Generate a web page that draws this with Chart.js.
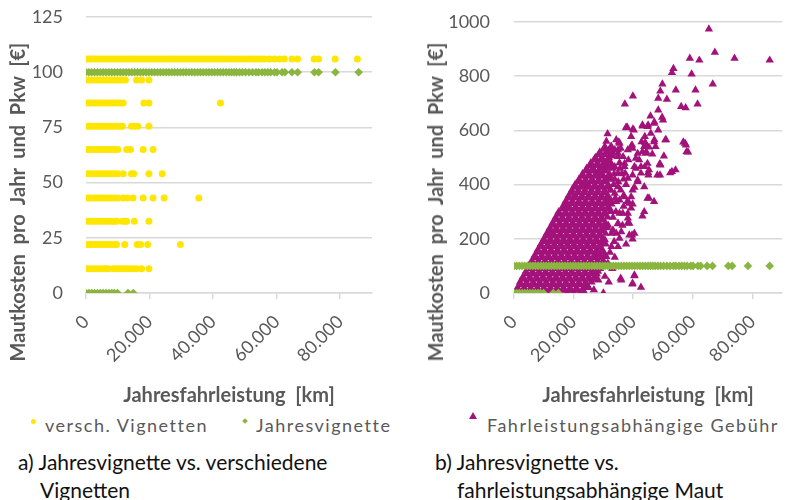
<!DOCTYPE html>
<html lang="de">
<head>
<meta charset="utf-8">
<title>Mautkosten pro Jahr und Pkw</title>
<script src="https://cdn.jsdelivr.net/npm/chart.js@4.4.1/dist/chart.umd.min.js"></script>
<style>
  html, body { margin: 0; padding: 0; background: #ffffff; }
  body { position: relative; width: 787px; height: 500px; overflow: hidden; font-family: Lato, "Open Sans", sans-serif; }
  .panel { position: absolute; top: 0; height: 408px; }
  #panelA { left: 0; width: 400px; }
  #panelB { left: 420px; width: 367px; }
  .ytitle { position: absolute; top: 202px; font-size: 20px; line-height: 20px; font-weight: bold; color: #595959;
            white-space: pre; transform: translate(-50%, -50%) rotate(-90deg); }
  .legend-text { position: absolute; top: 414px; font-size: 18px; line-height: 22px; color: #595959;
                 letter-spacing: 1.5px; white-space: pre; }
  .marker { position: absolute; }
  .caption { position: absolute; font-size: 21px; line-height: 28px; color: #111111; white-space: pre; }
</style>
</head>
<body>
<div class="panel" id="panelA"><canvas id="chartA"></canvas></div>
<div class="panel" id="panelB"><canvas id="chartB"></canvas></div>
<div id="overlay"></div>
<script>
// ---- Achsen ----
const kmMax = 90000;
const kmTicks = [0, 20000, 40000, 60000, 80000];
const euroAxisA = { max: 125, step: 25 };
const euroAxisB = { max: 1000, step: 200 };

const titleX = 'Jahresfahrleistung  [km]';
const titleY = 'Mautkosten  pro  Jahr  und  Pkw  [€]';

// ---- Serien ----
const nameVignetten = 'versch. Vignetten';
const nameJahresvignette = 'Jahresvignette';
const nameGebuehr = 'Fahrleistungsabhängige Gebühr';

const captionA = ['a) Jahresvignette vs. verschiedene', 'Vignetten'];
const captionB = ['b) Jahresvignette vs.', 'fahrleistungsabhängige Maut'];

// versch. Vignetten: Kostenstufen [€] und die Jahresfahrleistungen [km] je Stufe
const vignettenEuro = [106, 96.5, 86, 75.5, 65, 54, 43, 32.5, 22, 11];
const vignettenKm = [
  [300, 1100, 2000, 2900, 3800, 4700, 5600, 6500, 7400, 8300, 9200, 10100, 11000, 11900, 12800, 13700,
   14600, 15500, 16400, 17300, 18200, 19100, 20000, 20900, 21800, 22700, 23600, 24500, 25400, 26300,
   27200, 28100, 29000, 29900, 30800, 31700, 32600, 33500, 34400, 35300, 36200, 37100, 38000, 38900,
   39800, 40700, 41600, 42500, 43400, 44300, 45200, 46200, 47200, 48300, 49300, 50400, 51400, 52500,
   53300, 54100, 55200, 56200, 57700, 59300, 60900, 62400, 64800, 66600, 71800, 73200, 78400, 85400],
  [700, 1600, 2500, 3400, 4300, 5200, 6100, 7000, 7900, 8800, 9700, 10600, 11500, 12400, 15900, 17500, 19800],
  [0, 900, 1800, 2700, 3600, 4500, 5400, 6300, 7200, 8100, 9000, 9900, 10800, 11700, 18200, 19800, 42300],
  [0, 900, 1800, 2700, 3600, 4500, 5400, 6300, 7200, 8100, 9000, 9900, 10800, 11500, 14300, 15200, 16300, 19800],
  [0, 900, 1800, 2700, 3600, 4500, 5400, 6300, 7200, 8100, 9000, 10000, 12800, 14000, 18000, 21100],
  [0, 900, 1800, 2700, 3600, 4500, 5400, 6300, 7200, 8100, 9000, 10000, 11700, 14300, 15000, 19800, 24000],
  [0, 900, 1800, 2700, 3600, 4500, 5400, 6300, 7200, 8100, 9000, 10000, 11700, 13100, 14800, 18000, 21100, 24600, 35500],
  [0, 900, 1800, 2700, 3600, 4500, 5400, 6300, 7200, 8100, 8900, 9700, 11500, 12200, 12800, 15200, 19800],
  [0, 900, 1800, 2700, 3600, 4500, 5400, 6300, 7200, 8100, 8900, 9600, 12200, 16100, 17200, 19400, 29700],
  [0, 900, 1800, 2700, 3600, 4500, 5400, 6200, 7000, 8600, 9500, 10400, 11300, 12200, 13100, 14000, 14900, 15900, 17500, 19800]
];

// Jahresvignette: 100 € bzw. 0 €
const jahresvignetteEuro = [100, 0];
const jahresvignetteKm = [
  [0, 900, 1800, 2700, 3600, 4500, 5400, 6300, 7200, 8100, 9000, 9900, 10800, 11700, 12600, 13500,
   14400, 15300, 16200, 17100, 18000, 18900, 19800, 20700, 21600, 22500, 23400, 24300, 25200, 26100,
   27000, 27900, 28800, 29700, 30600, 31500, 32400, 33300, 34200, 35100, 36000, 36900, 37800, 38700,
   39600, 40500, 41400, 42300, 43200, 44100, 45000, 45800, 46600, 47400, 48300, 49200, 50200, 51300,
   52400, 53500, 54300, 55400, 56300, 57200, 58100, 59300, 60100, 61700, 62600, 64800, 66600, 71900,
   73200, 78500, 85800],
  [0, 900, 1800, 2700, 3600, 4500, 5400, 6300, 7200, 8100, 8900, 9900, 13200, 14900]
];

// Fahrleistungsabhängige Gebühr: geschlossene Punktwolke, zeilenweise nach Kosten [€]
const gebuehrDichtEuro = [0, 10, 20, 30, 40, 50, 60, 70, 80, 90, 100, 110, 120, 130, 140, 150, 160, 170, 180, 190,
                          200, 210, 220, 230, 240, 250, 260, 270, 280, 290, 300, 310, 320, 330, 340, 350, 360, 370,
                          380, 390, 400, 410, 420, 430, 440, 450, 460, 470, 480, 490, 500, 510, 520, 530, 540];
const gebuehrDichtKm = [
  [300, 2400, 4600, 6800, 9000, 11200, 13400, 15600, 17800, 20000, 22200, 23600],
  [1400, 3500, 5700, 7900, 10100, 12300, 14500, 16700, 18900, 21100, 23300],
  [1200, 3400, 5600, 7800, 10000, 12200, 14400, 16600, 18800, 21000, 23300, 25000],
  [2300, 4500, 6700, 8900, 11100, 13300, 15500, 17700, 19900, 22100, 24300],
  [2000, 4200, 6400, 8600, 10800, 13000, 15200, 17400, 19600, 21800, 24000, 26000],
  [3300, 5500, 7700, 9900, 12100, 14300, 16500, 18700, 20900, 23100, 25300, 26600],
  [3000, 5300, 7500, 9700, 11900, 14100, 16300, 18500, 20700, 22900, 25100, 27200],
  [4300, 6500, 8700, 10900, 13100, 15300, 17500, 19700, 21900, 24100, 26300, 27800],
  [4000, 6200, 8400, 10600, 12800, 15000, 17200, 19400, 21600, 23800, 26000, 28200],
  [5200, 7400, 9600, 11800, 14000, 16200, 18400, 20600, 22800, 25000, 27200, 28900],
  [5000, 7300, 9500, 11700, 13900, 16100, 18300, 20500, 22700, 24900, 27100, 29200],
  [6200, 8400, 10600, 12800, 15000, 17200, 19400, 21600, 23800, 26000, 28200, 29900],
  [6000, 8200, 10400, 12600, 14800, 17000, 19200, 21400, 23600, 25800, 28000, 30000],
  [7200, 9400, 11600, 13800, 16000, 18200, 20400, 22600, 24800, 27000, 29200],
  [7000, 9300, 11500, 13700, 15900, 18100, 20300, 22500, 24700, 26900, 28800, 30600],
  [8200, 10400, 12600, 14800, 17000, 19200, 21400, 23600, 25800, 28000, 30000],
  [8000, 10200, 12400, 14600, 16800, 19000, 21200, 23400, 25600, 27800, 29600],
  [9200, 11400, 13600, 15800, 18000, 20200, 22400, 24600, 26800, 29000],
  [9000, 11300, 13500, 15700, 17900, 20100, 22300, 24500, 26700, 28900, 30800],
  [10200, 12400, 14600, 16800, 19000, 21200, 23400, 25600, 27800, 30000],
  [10000, 12200, 14400, 16600, 18800, 21000, 23200, 25400, 27600, 29800],
  [11200, 13400, 15600, 17800, 20000, 22200, 24400, 26600, 28800],
  [11000, 13300, 15500, 17700, 19900, 22100, 24300, 26500, 28700, 30700],
  [12200, 14400, 16600, 18800, 21000, 23200, 25400, 27600, 29800],
  [12000, 14200, 16400, 18600, 20800, 23000, 25200, 27400, 29600, 31400],
  [13200, 15400, 17600, 19800, 22000, 24200, 26400, 28600, 30800],
  [13000, 15300, 17500, 19700, 21900, 24100, 26300, 28500, 30600],
  [14200, 16400, 18600, 20800, 23000, 25200, 27400, 29600],
  [14000, 16200, 18400, 20600, 22800, 25000, 27200, 29400, 31400],
  [15300, 17400, 19600, 21800, 24000, 26200, 28400, 30600],
  [15000, 17300, 19500, 21700, 23900, 26100, 28300, 30500, 32400],
  [16300, 18400, 20600, 22800, 25000, 27200, 29400, 31600],
  [16400, 18500, 20700, 22900, 25100, 27300, 29500, 31600],
  [17300, 19500, 21700, 23900, 26100, 28300, 30500],
  [17400, 19600, 21800, 24000, 26200, 28400, 30600, 32600],
  [18300, 20500, 22700, 24900, 27100, 29300, 31500],
  [18400, 20600, 22800, 25000, 27200, 29400, 31500],
  [19300, 21500, 23700, 25900, 28100, 30300],
  [19400, 21600, 23800, 26000, 28200, 30400, 32500],
  [20400, 22600, 24800, 27000, 29200, 31400],
  [20500, 22700, 24900, 27100, 29300, 31600],
  [21600, 23800, 26000, 28200, 30400],
  [21800, 24000, 26200, 28400, 30600, 32800],
  [22800, 25000, 27200, 29400, 31600],
  [23000, 25200, 27400, 29600, 32000],
  [24000, 26200, 28400, 30600],
  [24400, 26600, 28800, 31000, 33200],
  [25400, 27600, 29800, 32000],
  [25800, 28000, 30200, 32500],
  [26800, 29000, 31200],
  [27300, 29500, 31800],
  [28300, 30500, 32600],
  [28800, 31000, 33000],
  [30000, 32000],
  [30500, 32600]
];

// Fahrleistungsabhängige Gebühr: einzeln liegende Fahrzeuge [km, €]
const gebuehrEinzeln = [
  [65400, 974], [67400, 888], [59000, 866], [62200, 859], [74000, 866], [85800, 859], [53500, 828],
  [53000, 813], [59600, 808], [66700, 771], [49800, 771], [49100, 745], [54300, 749], [60900, 749],
  [39900, 727], [37200, 697], [48400, 718], [51300, 715], [56100, 688], [57600, 683], [61600, 697],
  [48400, 675], [45800, 653], [49700, 648], [47100, 631], [45000, 620], [43200, 616], [39900, 605],
  [37700, 609], [48400, 601], [31400, 587], [51000, 565], [56800, 557], [57700, 546], [58400, 520],
  [35200, 557], [47100, 565], [50300, 505], [49000, 476], [29200, 491], [26100, 454], [54200, 454],
  [52400, 443], [49000, 435], [45100, 435], [43700, 540], [44400, 521], [39600, 546], [42800, 558],
  [45300, 350], [47000, 337], [43700, 300], [43100, 284], [39800, 328], [39300, 313], [38200, 258],
  [39600, 214], [39800, 199], [34300, 220], [34900, 171], [33800, 132], [35800, 54], [40400, 63],
  [39700, 33], [42600, 21], [30000, 0], [57900, 521], [57400, 552], [45900, 589], [43900, 577],
  [44200, 550], [47000, 558], [45300, 538], [43100, 521], [46400, 513], [42000, 491], [43900, 466],
  [45000, 444], [41500, 417], [40400, 390], [39300, 355], [38000, 337], [37300, 442], [38400, 491],
  [39800, 534], [40900, 460], [39300, 577], [38000, 611], [34300, 565], [34900, 528], [35800, 534],
  [36600, 503], [33800, 466], [34900, 392], [33800, 368], [35400, 343], [32700, 328], [35400, 294],
  [33200, 279], [38200, 294], [34900, 255], [32700, 220], [30500, 196], [28300, 146], [31000, 134],
  [29400, 97], [26700, 73], [28300, 48], [25000, 21], [32700, 171], [37600, 611], [40200, 601],
  [43100, 620], [44800, 614], [47000, 626], [50000, 638], [50800, 565], [47500, 540], [44000, 555],
  [49100, 472], [53000, 448], [48100, 435], [44800, 349], [40400, 220], [38700, 257], [34900, 257],
  [35400, 552], [38200, 528], [41500, 515], [34900, 515], [37100, 478], [40400, 466], [42600, 442],
  [41500, 411], [38200, 423], [44800, 478], [43700, 392], [39800, 380], [37100, 355], [38700, 331],
  [34300, 337], [36500, 294], [32700, 300], [38200, 276], [36000, 226], [35400, 202], [38700, 214],
  [33200, 232], [33800, 528], [34900, 503], [39300, 540], [40900, 497], [44200, 515], [37100, 466],
  [42600, 466], [34900, 442], [39800, 435], [45300, 454], [32200, 466], [28300, 442], [29400, 466],
  [48900, 476], [36000, 48], [40400, 66], [39800, 36], [30500, 61], [31500, 110], [32200, 150],
  [33000, 90], [31800, 40], [26800, 12], [23400, 398], [20100, 355], [17900, 318], [11800, 214],
  [33400, 400], [31800, 420], [33600, 440], [35600, 460], [36800, 420], [35800, 380], [36800, 320],
  [34200, 300], [36400, 250], [33600, 190], [31600, 250], [37600, 180], [31000, 560], [32600, 540],
  [33200, 505], [31800, 480], [33800, 420], [32400, 380], [34000, 350], [31600, 330], [35000, 410],
  [36200, 440], [35400, 480], [37600, 400], [36800, 360], [32200, 520]
];

// ---- Farben ----
const colorVignetten = '#FFE600';
const colorJahresvignette = '#8AB53F';
const colorGebuehr = '#A2127A';
const colorText = '#595959';
const colorGrid = '#D9D9D9';

// ---- Hilfsfunktionen ----
function levelsToPoints(levels, kmRows) {
  const pts = [];
  levels.forEach((euro, i) => kmRows[i].forEach(km => pts.push({ x: km, y: euro })));
  return pts;
}
function formatKm(v) {
  return String(v).replace(/\B(?=(\d{3})+(?!\d))/g, '.');
}

function scales(axis, yWidth, yGap) {
  return {
    x: {
      type: 'linear', min: 0, max: kmMax, bounds: 'data',
      afterBuildTicks: s => { s.ticks = kmTicks.map(v => ({ value: v })); },
      ticks: {
        autoSkip: false, minRotation: 45, maxRotation: 45, padding: 12,
        color: colorText, font: { family: 'Lato', size: 18 },
        callback: v => formatKm(v)
      },
      grid: { drawOnChartArea: false, drawTicks: true, tickLength: 6, color: colorGrid, lineWidth: 1.5 },
      border: { display: true, color: colorGrid, width: 1.5 },
      title: {
        display: true, text: titleX, color: colorText,
        font: { family: 'Lato', size: 20, weight: 'bold' }, padding: { top: 0, bottom: 0 }
      },
      afterFit: s => { s.height = 115; }
    },
    y: {
      type: 'linear', min: 0, max: axis.max,
      ticks: { stepSize: axis.step, padding: 3, color: colorText, font: { family: 'Lato', size: 18 },
               callback: v => String(v) },
      grid: { color: colorGrid, lineWidth: 1.5, drawTicks: true, tickLength: yGap, tickColor: 'rgba(0,0,0,0)' },
      border: { display: false },
      afterFit: s => { s.width = yWidth; }
    }
  };
}

function baseOptions(axis, yWidth, yGap, padding) {
  return {
    responsive: true, maintainAspectRatio: false, animation: false,
    events: [],
    layout: { padding },
    plugins: { legend: { display: false }, tooltip: { enabled: false } },
    scales: scales(axis, yWidth, yGap)
  };
}

const jahresvignettePoints = levelsToPoints(jahresvignetteEuro, jahresvignetteKm);

// Diagramm a): Jahresvignette vs. verschiedene Vignetten
new Chart(document.getElementById('chartA'), {
  type: 'scatter',
  data: {
    datasets: [
      { label: nameJahresvignette, data: jahresvignettePoints, pointStyle: 'rectRot', pointRadius: 4.3,
        backgroundColor: colorJahresvignette, borderWidth: 0 },
      { label: nameVignetten, data: levelsToPoints(vignettenEuro, vignettenKm), pointStyle: 'circle', pointRadius: 3.5,
        backgroundColor: colorVignetten, borderWidth: 0 }
    ]
  },
  options: baseOptions(euroAxisA, 86, 20, { top: 17, right: 28, left: 0, bottom: 0 })
});

// Diagramm b): Jahresvignette vs. fahrleistungsabhängige Maut
const gebuehrPoints = levelsToPoints(gebuehrDichtEuro, gebuehrDichtKm)
  .concat(gebuehrEinzeln.map(([km, euro]) => ({ x: km, y: euro })));

new Chart(document.getElementById('chartB'), {
  type: 'scatter',
  data: {
    datasets: [
      { label: nameJahresvignette, data: jahresvignettePoints, pointStyle: 'rectRot', pointRadius: 4.3,
        backgroundColor: colorJahresvignette, borderWidth: 0 },
      { label: nameGebuehr, data: gebuehrPoints, pointStyle: 'triangle', pointRadius: 4.8,
        backgroundColor: colorGebuehr, borderWidth: 0 }
    ]
  },
  options: baseOptions(euroAxisB, 94, 21, { top: 22, right: 0, left: 0, bottom: 0 })
});

// ---- Achsentitel, Legenden und Bildunterschriften ----
const overlay = document.getElementById('overlay');
function addText(cls, text, left, top) {
  const d = document.createElement('div');
  d.className = cls;
  d.textContent = text;
  d.style.left = left + 'px';
  if (top !== null) d.style.top = top + 'px';
  overlay.appendChild(d);
  return d;
}
function addMarker(shape, color, cx, cy) {
  const m = document.createElement('div');
  m.className = 'marker';
  if (shape === 'circle') {
    Object.assign(m.style, { width: '5px', height: '5px', borderRadius: '50%', background: color,
      left: (cx - 2.5) + 'px', top: (cy - 2.5) + 'px' });
  } else if (shape === 'diamond') {
    Object.assign(m.style, { width: '4px', height: '4px', background: color, transform: 'rotate(45deg)',
      left: (cx - 2) + 'px', top: (cy - 2) + 'px' });
  } else {
    Object.assign(m.style, { width: '0', height: '0', borderLeft: '4px solid transparent',
      borderRight: '4px solid transparent', borderBottom: '7px solid ' + color,
      left: (cx - 4) + 'px', top: (cy - 4) + 'px' });
  }
  overlay.appendChild(m);
}

addText('ytitle', titleY, 17, null);
addText('ytitle', titleY, 435, null);

addMarker('circle', colorVignetten, 33, 421);
addText('legend-text', nameVignetten, 45, 414);
addMarker('diamond', colorJahresvignette, 245, 421);
addText('legend-text', nameJahresvignette, 256, 414);
addMarker('triangle', colorGebuehr, 473, 416);
addText('legend-text', nameGebuehr, 487, 414);

addText('caption', captionA[0], 18, 448);
addText('caption', captionA[1], 40, 476);
addText('caption', captionB[0], 435, 448);
addText('caption', captionB[1], 457, 476);
</script>
</body>
</html>
